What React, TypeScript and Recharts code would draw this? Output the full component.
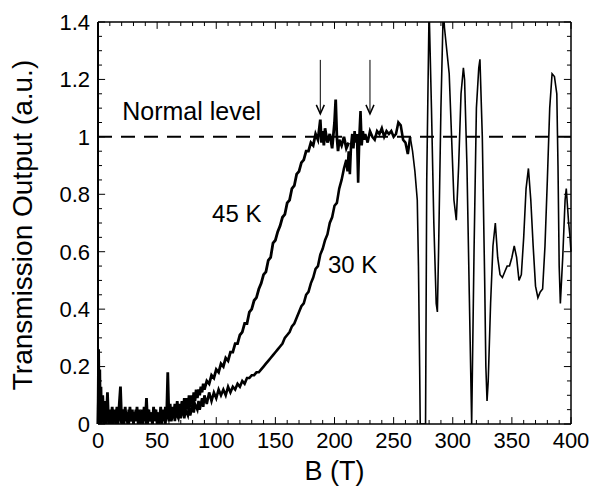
import { LineChart, Line, XAxis, YAxis, ReferenceLine, ReferenceDot, Label } from "recharts";

// magnetic field (T) and transmission (a.u.), 45 K
const field45 = [
  0, 0.5, 1, 1.5, 2, 2.5, 3, 4, 5, 6,
  7, 8, 9, 10, 11, 12, 13, 14, 15, 16,
  17, 18, 19, 20, 21, 22, 23, 24, 25, 26,
  27, 28, 29, 30, 31, 32, 33, 34, 35, 36,
  37, 38, 39, 40, 41, 42, 43, 44, 45, 46,
  47, 48, 49, 50, 51, 52, 53, 54, 55, 56,
  57, 58, 59, 60, 61, 62, 63, 64, 65, 66,
  67, 68, 69, 70, 71, 72, 73, 74, 75, 76,
  77, 78, 79, 80, 81, 82, 83, 84, 85, 86,
  87, 88, 89, 90, 92, 94, 96, 98, 100, 102,
  104, 106, 108, 110, 112, 114, 116, 118, 120, 122,
  124, 126, 128, 130, 132, 134, 136, 138, 140, 142,
  144, 146, 148, 150, 152, 154, 156, 158, 160, 162,
  164, 166, 168, 170, 172, 174, 176, 178, 180, 182,
  184, 186, 188, 189, 190, 191, 192, 194, 196, 198,
  200, 201, 202, 203, 204, 206, 208, 210, 212,
];
const trans45 = [
  0, 0.26, 0.02, 0.19, 0, 0.13, 0.01, 0.1, 0, 0.08,
  0.01, 0.11, 0, 0.05, 0.01, 0.06, 0, 0.05, 0.01, 0.06,
  0, 0.07, 0.13, 0.01, 0.05, 0, 0.06, 0.01, 0.04, 0,
  0.06, 0.01, 0.05, 0, 0.04, 0.01, 0.06, 0, 0.05, 0.01,
  0.04, 0, 0.06, 0.01, 0.09, 0, 0.05, 0.01, 0.04, 0,
  0.06, 0.01, 0.05, 0, 0.04, 0.01, 0.06, 0, 0.05, 0.01,
  0.06, 0.02, 0.18, 0.02, 0.07, 0.02, 0.06, 0.03, 0.07, 0.03,
  0.08, 0.03, 0.07, 0.04, 0.08, 0.04, 0.09, 0.05, 0.09, 0.05,
  0.1, 0.06, 0.1, 0.07, 0.11, 0.08, 0.12, 0.09, 0.12, 0.1,
  0.13, 0.11, 0.14, 0.12, 0.15, 0.14, 0.17, 0.16, 0.19, 0.18,
  0.21, 0.2, 0.23, 0.22, 0.25, 0.25, 0.28, 0.28, 0.31, 0.32,
  0.35, 0.35, 0.39, 0.4, 0.43, 0.44, 0.47, 0.49, 0.52, 0.53,
  0.57, 0.58, 0.63, 0.64, 0.67, 0.69, 0.72, 0.73, 0.77, 0.78,
  0.82, 0.83, 0.87, 0.88, 0.91, 0.92, 0.95, 0.95, 0.98, 0.97,
  1.01, 0.99, 1.06, 0.98, 1.02, 0.97, 1.03, 0.98, 1.01, 0.96,
  1.05, 1.13, 1.0, 0.95, 0.99, 0.97, 1.0, 0.96, 0.98,
];

// 30 K
const field30 = [
  0, 0.5, 1, 2, 3, 4, 5, 6, 7, 8,
  9, 10, 11, 12, 13, 14, 15, 16, 17, 18,
  20, 21, 22, 24, 25, 26, 28, 29, 30, 32,
  33, 34, 36, 37, 38, 40, 41, 42, 44, 45,
  46, 48, 49, 50, 52, 53, 54, 56, 57, 58,
  60, 61, 62, 64, 65, 66, 68, 69, 70, 72,
  73, 74, 76, 77, 78, 80, 81, 82, 84, 85,
  86, 88, 89, 90, 92, 94, 96, 98, 100, 102,
  104, 106, 108, 110, 112, 114, 116, 118, 120, 122,
  124, 126, 128, 130, 132, 134, 136, 138, 140, 142,
  144, 146, 148, 150, 152, 154, 156, 158, 160, 162,
  164, 166, 168, 170, 172, 174, 176, 178, 180, 182,
  184, 186, 188, 190, 192, 194, 196, 198, 200, 202,
  204, 206, 208, 210, 211, 212, 213, 214, 215, 216,
  217, 218, 219, 220, 221, 222, 223, 224, 225, 226,
  228, 230, 232, 234, 236, 238, 240, 242, 244, 246,
  248, 250, 252, 254, 256, 258, 260, 262, 264, 266,
  268, 270, 271, 272, 272.5, 277, 278, 280, 282, 284,
  286, 287, 288, 290, 292, 293, 295, 297, 299, 301,
  303, 305, 307, 309, 310, 312, 314, 316, 318, 320,
  322, 323, 325, 327, 328, 329, 330, 332, 334, 336,
  338, 340, 342, 344, 346, 348, 350, 352, 354, 356,
  358, 360, 362, 364, 366, 368, 370, 372, 374, 376,
  378, 380, 382, 384, 386, 388, 389, 390, 391, 393,
  395, 396, 398, 399, 400,
];
const trans30 = [
  0, 0.16, 0.01, 0.08, 0, 0.06, 0.01, 0.04, 0, 0.05,
  0.01, 0.04, 0, 0.05, 0.01, 0.04, 0, 0.05, 0.01, 0.04,
  0, 0.05, 0.01, 0.04, 0, 0.05, 0.01, 0.04, 0, 0.05,
  0.01, 0.04, 0, 0.05, 0.01, 0.04, 0, 0.05, 0.01, 0.04,
  0, 0.05, 0.01, 0.04, 0, 0.05, 0.01, 0.04, 0, 0.05,
  0.01, 0.04, 0.01, 0.05, 0.01, 0.04, 0.02, 0.05, 0.02, 0.06,
  0.02, 0.05, 0.03, 0.06, 0.03, 0.07, 0.04, 0.07, 0.05, 0.08,
  0.05, 0.09, 0.06, 0.1, 0.07, 0.11, 0.08, 0.11, 0.09, 0.12,
  0.1, 0.12, 0.1, 0.13, 0.11, 0.13, 0.12, 0.14, 0.13, 0.15,
  0.14, 0.16, 0.16, 0.17, 0.17, 0.18, 0.18, 0.19, 0.2, 0.21,
  0.22, 0.23, 0.24, 0.25, 0.26, 0.27, 0.28, 0.3, 0.31, 0.32,
  0.34, 0.35, 0.37, 0.39, 0.41, 0.42, 0.45, 0.46, 0.49, 0.51,
  0.54, 0.55, 0.59, 0.61, 0.64, 0.66, 0.7, 0.72, 0.76, 0.77,
  0.82, 0.85, 0.89, 0.92, 0.88, 0.95, 0.87, 0.97, 1.01, 0.96,
  1.02, 0.98, 1.01, 0.84, 1.0, 1.09, 0.97, 1.02, 0.99, 1.01,
  0.98, 1.02, 1.0, 0.99, 1.02, 1.01, 1.03, 1.0, 1.02, 1.01,
  1.02, 1.0, 1.01, 1.05, 1.04, 0.99, 0.98, 0.94, 1.0, 0.95,
  0.88, 0.78, 0.55, 0.2, 0, 0, 0.85, 1.45, 1.1, 0.7,
  0.42, 0.39, 0.6, 1.1, 1.45, 1.38, 1.3, 1.22, 1.0, 0.78,
  0.71, 0.9, 1.15, 1.24, 1.2, 0.9, 0.45, 0, 0.6, 1.1,
  1.24, 1.27, 1.0, 0.5, 0.2, 0.08, 0.15, 0.42, 0.62, 0.7,
  0.58, 0.52, 0.51, 0.53, 0.55, 0.55, 0.58, 0.62, 0.58, 0.5,
  0.52, 0.65, 0.82, 0.89, 0.78, 0.62, 0.48, 0.44, 0.46, 0.47,
  0.62, 0.85, 1.1, 1.22, 1.21, 1.15, 0.9, 0.55, 0.42, 0.58,
  0.78, 0.82, 0.7, 0.66, 0.6,
];

const xTicks = [0, 50, 100, 150, 200, 250, 300, 350, 400];
const yTicks = [0, 0.2, 0.4, 0.6, 0.8, 1, 1.2, 1.4];
const xMinor = Array.from({ length: 41 }, (_, i) => i * 10);
const yMinor = Array.from({ length: 29 }, (_, i) => Math.round(i * 5) / 100);

const normalLevel = 1;
const arrowFields = [188, 230];
const splitField = 264; // thick rising trace below, thin oscillating trace above

const data45 = field45.map((b, i) => ({ b, t: trans45[i] }));
const data30 = field30.map((b, i) => ({ b, t: trans30[i] }));
const data30low = data30.filter((d) => d.b <= splitField);
const data30high = data30.filter((d) => d.b >= splitField);

const FONT = "Liberation Sans, Arial, sans-serif";

function Arrow(props: any) {
  const { x1, y1, x2, y2 } = props;
  return (
    <g>
      <line x1={x1} y1={y1} x2={x2} y2={y2} stroke="#000" strokeWidth={1} />
      <polyline points={`${x2 - 4},${y2 - 9} ${x2},${y2} ${x2 + 4},${y2 - 9}`} fill="none" stroke="#000" strokeWidth={1.5} />
    </g>
  );
}

const textAt = (txt: string, size: number) => (p: any) => (
  <text x={p.cx} y={p.cy} fontSize={size} fontFamily={FONT} fill="#000">{txt}</text>
);

function YTitle(props: any) {
  const vb = props.viewBox;
  const x = vb.x + 22;
  const y = vb.y + vb.height / 2 + 2;
  return (
    <text x={x} y={y} transform={`rotate(-90, ${x}, ${y})`} textAnchor="middle" dominantBaseline="central" fontSize={28} fontFamily={FONT} fill="#000">
      Transmission Output (a.u.)
    </text>
  );
}

export default function App() {
  return (
    <div style={{ position: "absolute", left: 0, top: 0, background: "#fff" }}>
      <LineChart width={595} height={489} margin={{ top: 22, right: 24, left: 0, bottom: 0 }}>
        <XAxis
          type="number"
          dataKey="b"
          domain={[0, 400]}
          ticks={xTicks}
          height={65}
          tickLine={false}
          axisLine={{ stroke: "#000", strokeWidth: 1.5 }}
          tick={{ fill: "#000", fontSize: 22, fontFamily: FONT }}
        >
          <Label value="B (T)" position="insideBottom" offset={9} fill="#000" fontSize={27} fontFamily={FONT} />
        </XAxis>
        <YAxis
          type="number"
          domain={[0, 1.4]}
          allowDataOverflow
          ticks={yTicks}
          width={98}
          tickLine={false}
          axisLine={{ stroke: "#000", strokeWidth: 2 }}
          tick={{ fill: "#000", fontSize: 22, fontFamily: FONT }}
        >
          <Label content={YTitle} />
        </YAxis>

        <ReferenceLine y={1.4} stroke="#000" strokeWidth={1.5} />
        <ReferenceLine x={400} stroke="#000" strokeWidth={1.5} />

        {xMinor.map((v) => {
          const len = v % 50 === 0 ? 0.024 : 0.014;
          return [
            <ReferenceLine key={`xb${v}`} ifOverflow="visible" stroke="#000" segment={[{ x: v, y: 0 }, { x: v, y: len }]} />,
            <ReferenceLine key={`xt${v}`} ifOverflow="visible" stroke="#000" segment={[{ x: v, y: 1.4 }, { x: v, y: 1.4 - len }]} />,
          ];
        })}
        {yMinor.map((v) => {
          const len = Math.round(v * 100) % 20 === 0 ? 6 : 3.4;
          return [
            <ReferenceLine key={`yl${v}`} ifOverflow="visible" stroke="#000" segment={[{ x: 0, y: v }, { x: len, y: v }]} />,
            <ReferenceLine key={`yr${v}`} ifOverflow="visible" stroke="#000" segment={[{ x: 400, y: v }, { x: 400 - len, y: v }]} />,
          ];
        })}

        <ReferenceLine y={normalLevel} stroke="#000" strokeWidth={2} strokeDasharray="14 9" />

        <Line data={data30high} dataKey="t" type="linear" stroke="#000" strokeWidth={1.6} dot={false} isAnimationActive={false} />
        <Line data={data30low} dataKey="t" type="linear" stroke="#000" strokeWidth={2.6} dot={false} isAnimationActive={false} />
        <Line data={data45} dataKey="t" type="linear" stroke="#000" strokeWidth={2.8} dot={false} isAnimationActive={false} />

        {arrowFields.map((f) => (
          <ReferenceLine key={`ar${f}`} ifOverflow="visible" segment={[{ x: f, y: 1.268 }, { x: f, y: 1.08 }]} shape={Arrow} />
        ))}

        <ReferenceDot x={20.5} y={1.06} r={0} ifOverflow="visible" shape={textAt("Normal level", 25)} />
        <ReferenceDot x={96.5} y={0.705} r={0} ifOverflow="visible" shape={textAt("45 K", 24)} />
        <ReferenceDot x={194.5} y={0.527} r={0} ifOverflow="visible" shape={textAt("30 K", 24)} />
      </LineChart>
    </div>
  );
}
